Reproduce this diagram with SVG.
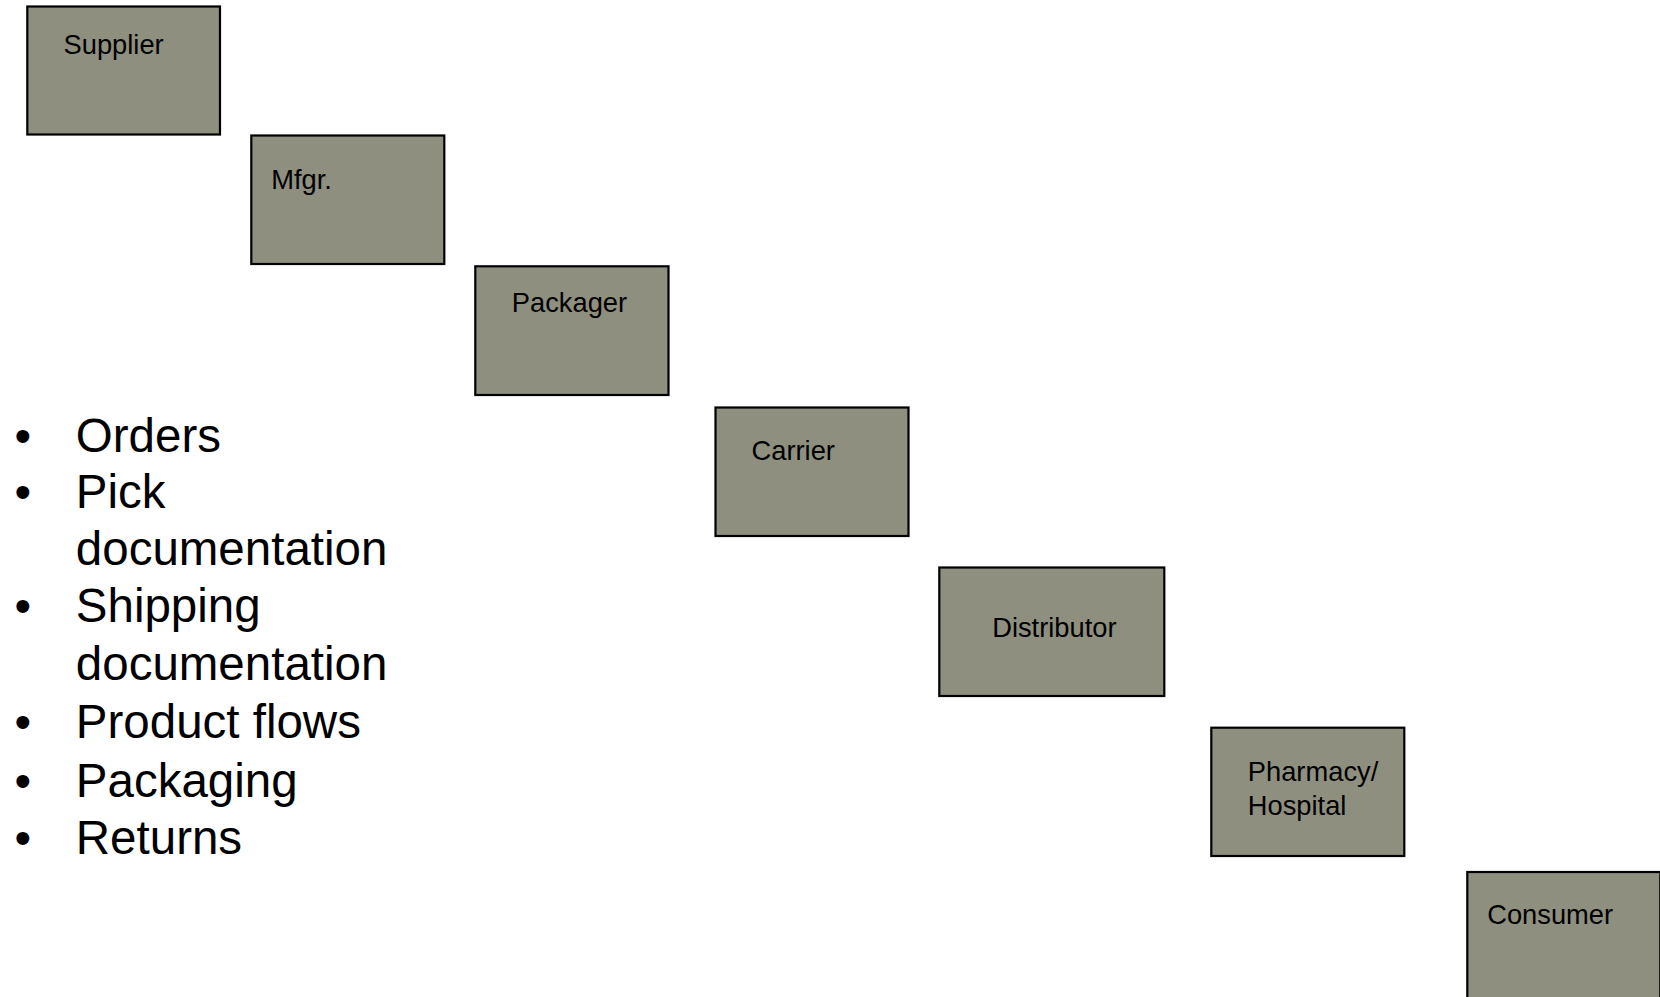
<svg xmlns="http://www.w3.org/2000/svg" width="1660" height="997" viewBox="0 0 1660 997">
<style>
.box{fill:#8f8f80;stroke:#000;stroke-width:2.2}
.lbl{font-family:"Liberation Sans",Arial,sans-serif;font-size:27.3px;fill:#000}
.bul{font-family:"Liberation Sans",Arial,sans-serif;font-size:47.5px;fill:#000}
</style>
<rect width="1660" height="997" fill="#fff"/>
<g id="connectors"></g>
<g id="supplier"><rect class="box" x="27.3" y="6.5" width="192.7" height="128"/><text class="lbl" x="63.5" y="54">Supplier</text></g>
<g id="mfgr"><rect class="box" x="251.3" y="135.5" width="193" height="128.5"/><text class="lbl" x="271.2" y="189">Mfgr.</text></g>
<g id="packager"><rect class="box" x="475.3" y="266.3" width="193.2" height="128.7"/><text class="lbl" x="511.8" y="311.7">Packager</text></g>
<g id="carrier"><rect class="box" x="715.5" y="407.5" width="193" height="128.5"/><text class="lbl" x="751.5" y="460">Carrier</text></g>
<g id="distributor"><rect class="box" x="939.3" y="567.5" width="225" height="128.5"/><text class="lbl" x="992.2" y="637.3">Distributor</text></g>
<g id="pharmacy"><rect class="box" x="1211.3" y="727.7" width="193" height="128.3"/><text class="lbl" x="1247.8" y="780.7">Pharmacy/</text><text class="lbl" x="1247.8" y="815">Hospital</text></g>
<g id="consumer"><rect class="box" x="1467.3" y="872" width="193" height="129"/><text class="lbl" x="1487.2" y="924.3">Consumer</text></g>
<g id="bullets">
<text class="bul" x="14.4" y="451.7">•</text><text class="bul" x="75.8" y="451.7">Orders</text>
<text class="bul" x="14.4" y="508.3">•</text><text class="bul" x="75.8" y="508.3">Pick</text>
<text class="bul" x="75.8" y="565">documentation</text>
<text class="bul" x="14.4" y="621.7">•</text><text class="bul" x="75.8" y="621.7">Shipping</text>
<text class="bul" x="75.8" y="680">documentation</text>
<text class="bul" x="14.4" y="738.3">•</text><text class="bul" x="75.8" y="738.3">Product flows</text>
<text class="bul" x="14.4" y="796.7">•</text><text class="bul" x="75.8" y="796.7">Packaging</text>
<text class="bul" x="14.4" y="854">•</text><text class="bul" x="75.8" y="854">Returns</text>
</g>
</svg>
